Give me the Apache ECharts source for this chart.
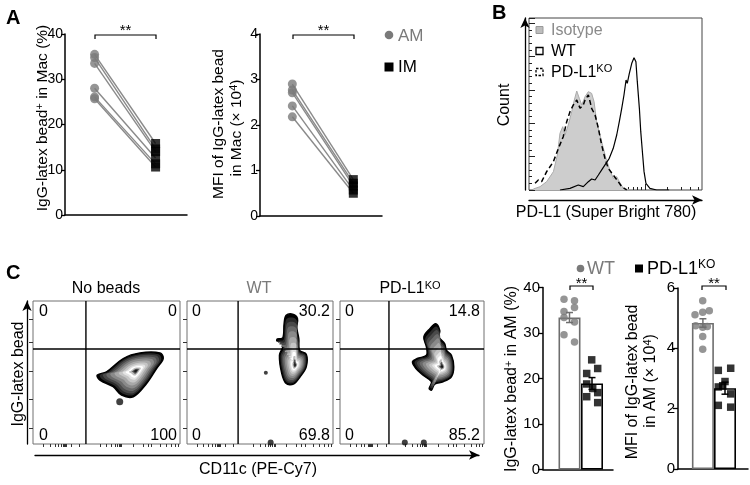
<!DOCTYPE html>
<html><head><meta charset="utf-8">
<script src="https://cdn.jsdelivr.net/npm/echarts@6/dist/echarts.min.js"></script>
<style>html,body{margin:0;padding:0;background:#fff}#c{width:750px;height:485px}</style>
</head><body><div id="c"></div>
<script>
const FONT = '"Liberation Sans", Arial, Helvetica, sans-serif';

// ---------- Panel A ----------
const groupsA = ['AM', 'IM'];
const groupX = [1, 3];
const pctAM = [35.5, 34.8, 33.5, 28.0, 26.1, 25.7];
const pctIM = [15.8, 14.6, 14.0, 12.6, 11.3, 10.6];
const mfiAM = [2.90, 2.77, 2.71, 2.42, 2.18];
const mfiIM = [0.80, 0.72, 0.66, 0.57, 0.50];

// ---------- Panel B (histograms; x = channel 0-100, y = count) ----------
const histIsotype = [[2.5,0.03],[6.4,0.1],[10.2,0.25],[14.1,0.55],[16.4,1.05],[17.9,1.7],[19.5,1.9],[20.8,1.65],[22.7,1.95],[24.7,2.35],[26.2,2.7],[27.6,2.97],[29.1,2.75],[30.5,2.55],[32.4,2.8],[34.3,2.95],[36.2,2.9],[37.6,2.65],[39.1,2.05],[42,1.45],[44.5,0.95],[46.4,0.65],[48.7,0.35],[50.7,0.4],[52.2,0.25],[54.5,0.05],[58.4,0]];
const histKO = [[3.5,0.2],[5.4,0.3],[7.3,0.25],[10.2,0.55],[14.1,0.85],[17,1.25],[19.8,1.6],[21.8,2.05],[23.7,2.35],[25.6,2.55],[27.6,2.7],[29.5,2.45],[31.4,2.55],[32.4,2.7],[34.3,2.85],[35.3,2.65],[36.2,2.45],[38.2,2.25],[40.1,1.85],[42,1.35],[43.9,0.95],[45.8,0.65],[48.7,0.45],[51.6,0.25],[53.6,0.1],[56.5,0]];
const histWT = [[17.9,0],[23.7,0.05],[28.5,0.15],[31.4,0.1],[34.3,0.25],[36.2,0.33],[38.2,0.3],[40.1,0.45],[42.6,0.65],[44.5,0.8],[46.4,0.95],[48.7,1.25],[50.7,1.65],[52.2,2.05],[53.6,2.45],[54.9,2.85],[56.1,3.3],[56.8,3.2],[58,3.5],[59.4,3.8],[60.7,3.97],[61.8,3.85],[62.6,3.25],[63.8,2.45],[64.6,1.75],[65.7,1.05],[66.5,0.55],[67.6,0.2],[69.9,0.05],[73.8,0],[81,0]];
const bTicksMajor = [23.3, 67];
const bTicksMinor = [5.8,11.6,16.4,19.3,21.2,25.4,27.3,30.2,36.5,44.1,49.6,53.8,57.3,60.2,62.8,65,80.2,87.9,93.4,97.6];

// ---------- Panel C flow plots (x: CD11c 0-100, y: bead 0-100) ----------
const flowTitles = ['No beads', 'WT', 'PD-L1KO'];
const gateX = [36, 35, 34];
const gateY = 66.4;
const quadrantPct = [[0, 0, 0, 100], [0, 30.2, 0, 69.8], [0, 14.8, 0, 85.2]]; // UL, UR, LL, LR
const blobNoBeads = {peak:[70,51.2], outline:[[43.6,48.1],[50,50.5],[61.4,59.8],[72.7,63.7],[86.4,63.7],[88.6,59.8],[84.1,52.8],[77.3,42.3],[68.2,33],[60.2,34.2],[54.5,40],[45.5,44.7]]};
const blobWT = {peak:[74.1,55.1], outline:[[67.9,90],[72.9,90.7],[75.7,87.7],[75.2,81.4],[76.6,73.7],[77.1,65.6],[81.7,62.8],[81.7,54],[77.5,47],[72.9,41.9],[67.9,42.3],[64.9,49.3],[63.3,62.1],[65.6,67.9],[64.9,71.4],[61.5,72.1],[61.9,73.5],[65.6,74.2],[66.5,84.2]]};
const blobKO = {peak:[71.1,54], outline:[[66.5,84.2],[69.3,79.5],[68.8,74.9],[72.7,70.2],[73.9,65.6],[77.4,62.1],[79,54],[77.4,47],[71.6,43.5],[65.8,41.9],[63.5,37.7],[61.9,38.8],[63.5,43.5],[57.7,48.1],[52.7,52.8],[50.3,57.4],[53.6,59.8],[60,62.1],[60,67.9],[58.2,74.9],[62.4,80.7]]};
const eventsNoBeads = [[59,29.5,7]];
const eventsWT = [[54,49.8,4],[57.3,1,6]];
const eventsKO = [[45,1,6],[58.2,1,6]];
const flowYTicks = [11, 31, 51, 71, 87];
const flowXTicks = [6.8,11.4,14.8,17,19.3,20.5,21.1,21.8,22.7,26.1,31.8,45.5,50,53.4,55.7,57.3,58.6,59.5,60.2,68.2,75,78.4,80.7,86.4,90.9,94.3,96.6,98.9];

// ---------- Panel C bar charts ----------
const barGroups = ['WT', 'PD-L1KO'];
const barX1 = [2.65, 4.9];
const pctMean = [33.4, 18.9];
const pctSem = [1.1, 1.3];
const pctWTpts = [[2.1,37.4],[3.15,37.1],[3.15,35.6],[2.1,34.7],[2.1,33.4],[3.15,32.4],[2.1,29.6],[3.15,28.0]];
const pctKOpts = [[4.87,24.1],[5.47,22.2],[4.37,21.1],[4.37,18.8],[4.97,17.8],[5.47,16.9],[4.37,16.0],[5.47,14.7]];
const barX2 = [2.49, 4.7];
const mfiMean = [4.84, 2.68];
const mfiSem = [0.14, 0.2];
const mfiWTpts = [[2.47,5.58],[1.7,5.11],[2.47,5.2],[3.13,5.25],[1.77,4.75],[2.47,4.70],[2.93,4.72],[2.47,4.39],[2.47,3.97]];
const mfiKOpts = [[4.03,3.27],[5.27,3.34],[4.7,2.9],[4.03,2.72],[4.47,2.76],[5.27,2.49],[4.03,2.11],[5.27,2.05]];

const GRAY = '#7a7a7a';
const ZEBRA = [[1.0,'#000'],[0.93,'#2a2a2a'],[0.85,'#4a4a4a'],[0.76,'#6a6a6a'],[0.66,'#8a8a8a'],[0.55,'#a8a8a8'],[0.44,'#c6c6c6'],[0.34,'#e4e4e4'],[0.26,'#ffffff'],[0.18,'#bdbdbd'],[0.11,'#555'],[0.06,'#1a1a1a']];

const chart = echarts.init(document.getElementById('c'));

const frame = {show:true, borderColor:'#707070', borderWidth:1, backgroundColor:'transparent'};
const grids = [
  {left:65, top:34, width:122, height:181},
  {left:260, top:34, width:122, height:182},
  Object.assign({left:529, top:18, width:173, height:172}, frame, {borderColor:'#444'}),
  Object.assign({left:33, top:301, width:147, height:143}, frame),
  Object.assign({left:187, top:301, width:146, height:143}, frame),
  Object.assign({left:340, top:301, width:144, height:143}, frame),
  {left:35, top:301, width:444, height:143},
  {left:543, top:287.5, width:70, height:182},
  {left:678, top:288, width:70, height:181}
];

const lineBlack = {show:true, onZero:false, lineStyle:{color:'#000', width:1.5}};
const noTick = {show:false};
const noLabel = {show:false};
const noSplit = {show:false};
const arrowLine = {show:true, onZero:false, symbol:['none','arrow'], symbolSize:[7,10], lineStyle:{color:'#000', width:1.3}};
const tickLabel = {fontSize:15, color:'#000', fontFamily:FONT, margin:3};
const tickLabelA = {fontSize:14, color:'#000', fontFamily:FONT, margin:2};

function hx(gi, extra) {
  return Object.assign({type:'value', gridIndex:gi, position:'bottom', min:0, max:100, axisLine:{show:false, onZero:false}, axisTick:noTick, axisLabel:noLabel, splitLine:noSplit}, extra||{});
}
function hy(gi, extra) {
  return Object.assign({type:'value', gridIndex:gi, position:'left', min:0, max:100, axisLine:{show:false, onZero:false}, axisTick:noTick, axisLabel:noLabel, splitLine:noSplit}, extra||{});
}

const xAxis = [
  hx(0, {min:0.03, max:4.03, axisLine:lineBlack}),
  hx(1, {min:-0.06, max:3.94, axisLine:lineBlack}),
  hx(2, {axisTick:{show:true, inside:true, length:6, customValues:bTicksMajor, lineStyle:{color:'#222'}}}),
  hx(2, {axisTick:{show:true, inside:true, length:3, customValues:bTicksMinor, lineStyle:{color:'#222'}}}),
  hx(2, {offset:10, axisLine:arrowLine}),
  hx(3, {axisTick:{show:true, inside:false, length:3, customValues:flowXTicks, lineStyle:{color:'#333'}}}),
  hx(4, {axisTick:{show:true, inside:false, length:3, customValues:flowXTicks, lineStyle:{color:'#333'}}}),
  hx(5, {axisTick:{show:true, inside:false, length:3, customValues:flowXTicks, lineStyle:{color:'#333'}}}),
  hx(6, {offset:11, axisLine:arrowLine}),
  hx(7, {min:0, max:7, axisLine:lineBlack}),
  hx(8, {min:0, max:7, axisLine:lineBlack})
];
const yTicksOut = {show:true, inside:false, length:4, lineStyle:{color:'#000', width:1.3}};
const yAxis = [
  hy(0, {min:0, max:40, interval:10, axisLine:lineBlack, axisTick:yTicksOut, axisLabel:tickLabelA}),
  hy(1, {min:0, max:4, interval:1, axisLine:lineBlack, axisTick:yTicksOut, axisLabel:tickLabelA}),
  hy(2, {min:0, max:5.16, interval:1, axisTick:{show:true, inside:true, length:6, lineStyle:{color:'#222'}}, minorTick:{show:true, splitNumber:5, length:3, lineStyle:{color:'#222'}}}),
  hy(2, {min:0, max:5.16, offset:4, axisLine:arrowLine}),
  hy(3, {axisTick:{show:true, inside:false, length:4, customValues:flowYTicks, lineStyle:{color:'#333'}}}),
  hy(4, {axisTick:{show:true, inside:false, length:4, customValues:flowYTicks, lineStyle:{color:'#333'}}}),
  hy(5, {axisTick:{show:true, inside:false, length:4, customValues:flowYTicks, lineStyle:{color:'#333'}}}),
  hy(3, {offset:6, axisLine:arrowLine}),
  hy(6),
  hy(7, {min:0, max:40, interval:10, axisLine:lineBlack, axisTick:Object.assign({}, yTicksOut, {length:5}), axisLabel:tickLabel}),
  hy(8, {min:0, max:6, interval:2, axisLine:lineBlack, axisTick:Object.assign({}, yTicksOut, {length:5}), axisLabel:tickLabel})
];

const series = [];
// Panel A
function pairedSeries(ax, am, im) {
  am.forEach((v, i) => series.push({type:'line', xAxisIndex:ax, yAxisIndex:ax, data:[[groupX[0], v], [groupX[1], im[i]]], symbol:'none', lineStyle:{color:'#8a8a8a', width:1.4}, z:2, silent:true}));
  series.push({type:'scatter', name:groupsA[0], xAxisIndex:ax, yAxisIndex:ax, data:am.map(v => [groupX[0], v]), symbol:'circle', symbolSize:9, itemStyle:{color:GRAY}, z:3});
  series.push({type:'scatter', name:groupsA[1], xAxisIndex:ax, yAxisIndex:ax, data:im.map(v => [groupX[1], v]), symbol:'rect', symbolSize:9, itemStyle:{color:'#000'}, z:3});
}
pairedSeries(0, pctAM, pctIM);
pairedSeries(1, mfiAM, mfiIM);

// Panel B
series.push({type:'line', xAxisIndex:2, yAxisIndex:2, data:histIsotype, symbol:'none', lineStyle:{color:'#aaaaaa', width:1}, areaStyle:{color:'#cdcdcd', opacity:1}, z:2});
series.push({type:'line', xAxisIndex:2, yAxisIndex:2, data:histKO, symbol:'none', lineStyle:{color:'#000', width:1.5, type:[5,3]}, z:3});
series.push({type:'line', xAxisIndex:2, yAxisIndex:2, data:histWT, symbol:'none', lineStyle:{color:'#000', width:1.2}, z:4});

// Panel C flow
const blobs = [blobNoBeads, blobWT, blobKO];
const events = [eventsNoBeads, eventsWT, eventsKO];
function contourRenderer(blob) {
  return function(params, api) {
    const c = api.coord(blob.peak);
    const pts = blob.outline.map(p => api.coord(p));
    const children = ZEBRA.map(([s, col], k) => ({
      type:'polygon',
      shape:{points: pts.map(p => [c[0] + s * (p[0] - c[0]), c[1] + s * (p[1] - c[1])]), smooth:0.35},
      style: k === 0 ? {fill:col, stroke:'#000', lineWidth:1.4} : {fill:col}
    }));
    return {type:'group', children};
  };
}
for (let i = 0; i < 3; i++) {
  const xa = 5 + i, ya = 4 + i;
  series.push({type:'line', xAxisIndex:xa, yAxisIndex:ya, data:[[gateX[i], 0], [gateX[i], 100]], symbol:'none', lineStyle:{color:'#000', width:1.4}, z:5, silent:true});
  series.push({type:'line', xAxisIndex:xa, yAxisIndex:ya, data:[[0, gateY], [100, gateY]], symbol:'none', lineStyle:{color:'#000', width:1.4}, z:5, silent:true});
  series.push({type:'custom', xAxisIndex:xa, yAxisIndex:ya, data:[blobs[i].peak], encode:{x:0, y:1}, z:3, silent:true, renderItem:contourRenderer(blobs[i])});
  series.push({type:'scatter', xAxisIndex:xa, yAxisIndex:ya, data:events[i].map(e => [e[0], e[1]]), symbol:'circle',
    symbolSize:(v, p) => events[i][p.dataIndex][2], itemStyle:{color:'#111'}, z:4, silent:true});
}

// Panel C bars
function barPanel(ax, bx, mean, sem, wtPts, koPts) {
  series.push({type:'bar', xAxisIndex:ax, yAxisIndex:ax, barWidth:22,
    data:[{value:[bx[0], mean[0]], itemStyle:{color:'#fff', borderColor:'#6e6e6e', borderWidth:1.6}},
          {value:[bx[1], mean[1]], itemStyle:{color:'#fff', borderColor:'#000', borderWidth:1.6}}], z:2});
  series.push({type:'custom', xAxisIndex:ax, yAxisIndex:ax, data:[[bx[0], mean[0], sem[0]], [bx[1], mean[1], sem[1]]], encode:{x:0, y:1}, z:5,
    renderItem: function(params, api) {
      const x = api.value(0), m = api.value(1), s = api.value(2);
      const t = api.coord([x, m + s]), b = api.coord([x, m - s]);
      const col = params.dataIndex === 0 ? '#6e6e6e' : '#000';
      const hw = 3.5, st = {stroke:col, lineWidth:1.5};
      return {type:'group', children:[
        {type:'line', shape:{x1:t[0], y1:t[1], x2:b[0], y2:b[1]}, style:st},
        {type:'line', shape:{x1:t[0]-hw, y1:t[1], x2:t[0]+hw, y2:t[1]}, style:st},
        {type:'line', shape:{x1:b[0]-hw, y1:b[1], x2:b[0]+hw, y2:b[1]}, style:st}
      ]};
    }});
  series.push({type:'scatter', name:barGroups[0], xAxisIndex:ax, yAxisIndex:ax, data:wtPts, symbol:'circle', symbolSize:7.5, itemStyle:{color:GRAY}, z:4});
  series.push({type:'scatter', name:barGroups[1], xAxisIndex:ax, yAxisIndex:ax, data:koPts, symbol:'rect', symbolSize:7.5, itemStyle:{color:'#000'}, z:4});
}
barPanel(9, barX1, pctMean, pctSem, pctWTpts, pctKOpts);
barPanel(10, barX2, mfiMean, mfiSem, mfiWTpts, mfiKOpts);

// ---------- annotations ----------
function txt(x, y, text, o) {
  o = o || {};
  const size = o.size || 16;
  const col = o.color || '#000';
  const st = {text, fontSize:size, fontFamily:FONT, fontWeight:o.bold ? 'bold' : 'normal', fill:col, align:o.align || 'left', verticalAlign:'middle'};
  if (o.rich) {
    st.rich = {a:{fontSize:size, fontFamily:FONT, fill:col}, s:{fontSize:Math.round(size * 0.68), fontFamily:FONT, fill:col, padding:[0,0,Math.round(size * 0.44),0]}};
  }
  return {type:'text', x, y, rotation:o.rot || 0, style:st, silent:true};
}
function bracket(x1, x2, y, leg) {
  return {type:'polyline', shape:{points:[[x1, y + leg], [x1, y], [x2, y], [x2, y + leg]]}, style:{stroke:'#000', lineWidth:1.2, fill:null}, silent:true};
}
const R90 = Math.PI / 2;
const graphic = [
  txt(6, 18, 'A', {bold:true, size:20}),
  txt(492, 13, 'B', {bold:true, size:20}),
  txt(6, 273, 'C', {bold:true, size:20}),
  // A labels
  txt(43, 118, '{a|IgG-latex bead}{s|+}{a| in Mac (%)}', {rot:R90, align:'center', rich:true, size:15.5}),
  txt(219, 124, 'MFI of IgG-latex bead', {rot:R90, align:'center', size:15.5}),
  txt(237, 128, '{a|in Mac (× 10}{s|4}{a|)}', {rot:R90, align:'center', rich:true, size:15.5}),
  bracket(95, 156, 35, 4), txt(125.5, 31, '**', {align:'center', size:15}),
  bracket(293, 354, 35, 4), txt(323.5, 31, '**', {align:'center', size:15}),
  {type:'circle', shape:{cx:389, cy:35, r:4.3}, style:{fill:GRAY}, silent:true},
  txt(398, 36, 'AM', {color:GRAY, size:17}),
  {type:'rect', shape:{x:384.5, y:62.5, width:9, height:9}, style:{fill:'#000'}, silent:true},
  txt(398, 67, 'IM', {size:17}),
  // B labels
  txt(505, 105, 'Count', {rot:R90, align:'center'}),
  txt(606, 213, 'PD-L1 (Super Bright 780)', {align:'center'}),
  {type:'rect', shape:{x:536, y:26.5, width:7, height:7}, style:{fill:'#bdbdbd', stroke:'#999', lineWidth:1}, silent:true},
  txt(551, 30.5, 'Isotype', {color:'#8a8a8a'}),
  {type:'rect', shape:{x:536, y:47.5, width:7, height:7}, style:{fill:'#fff', stroke:'#000', lineWidth:1.3}, silent:true},
  txt(551, 51.5, 'WT'),
  {type:'rect', shape:{x:536, y:68.5, width:7, height:7}, style:{fill:'#fff', stroke:'#000', lineWidth:1.3, lineDash:[2.5,1.5]}, silent:true},
  txt(551, 72.5, '{a|PD-L1}{s|KO}', {rich:true}),
  // C flow labels
  txt(106, 289, flowTitles[0], {align:'center'}),
  txt(259, 289, flowTitles[1], {align:'center', color:GRAY}),
  txt(410, 289, '{a|PD-L1}{s|KO}', {align:'center', rich:true}),
  txt(19, 374, 'IgG-latex bead', {rot:R90, align:'center'}),
  txt(258, 470, 'CD11c (PE-Cy7)', {align:'center'})
];
const qLeft = [39, 192, 345], qRight = [177, 330, 480];
for (let i = 0; i < 3; i++) {
  const q = quadrantPct[i];
  graphic.push(txt(qLeft[i], 312, String(q[0])));
  graphic.push(txt(qRight[i], 312, String(q[1]), {align:'right'}));
  graphic.push(txt(qLeft[i], 436, String(q[2])));
  graphic.push(txt(qRight[i], 436, String(q[3]), {align:'right'}));
}
graphic.push(
  txt(512, 379, '{a|IgG-latex bead}{s|+}{a| in AM (%)}', {rot:R90, align:'center', rich:true}),
  txt(633, 382, 'MFI of IgG-latex bead', {rot:R90, align:'center'}),
  txt(651, 381, '{a|in AM (× 10}{s|4}{a|)}', {rot:R90, align:'center', rich:true}),
  bracket(570, 593, 286, 4), txt(581.5, 284, '**', {align:'center', size:15}),
  bracket(702, 726, 286, 4), txt(714, 284, '**', {align:'center', size:15}),
  {type:'circle', shape:{cx:580.5, cy:268.5, r:3.8}, style:{fill:GRAY}, silent:true},
  txt(587, 269, 'WT', {color:GRAY, size:18}),
  {type:'rect', shape:{x:635, y:264.5, width:8, height:8}, style:{fill:'#000'}, silent:true},
  txt(647, 269, '{a|PD-L1}{s|KO}', {rich:true, size:18})
);

chart.setOption({animation:false, backgroundColor:'#fff', grid:grids, xAxis, yAxis, series, graphic});
</script></body></html>
